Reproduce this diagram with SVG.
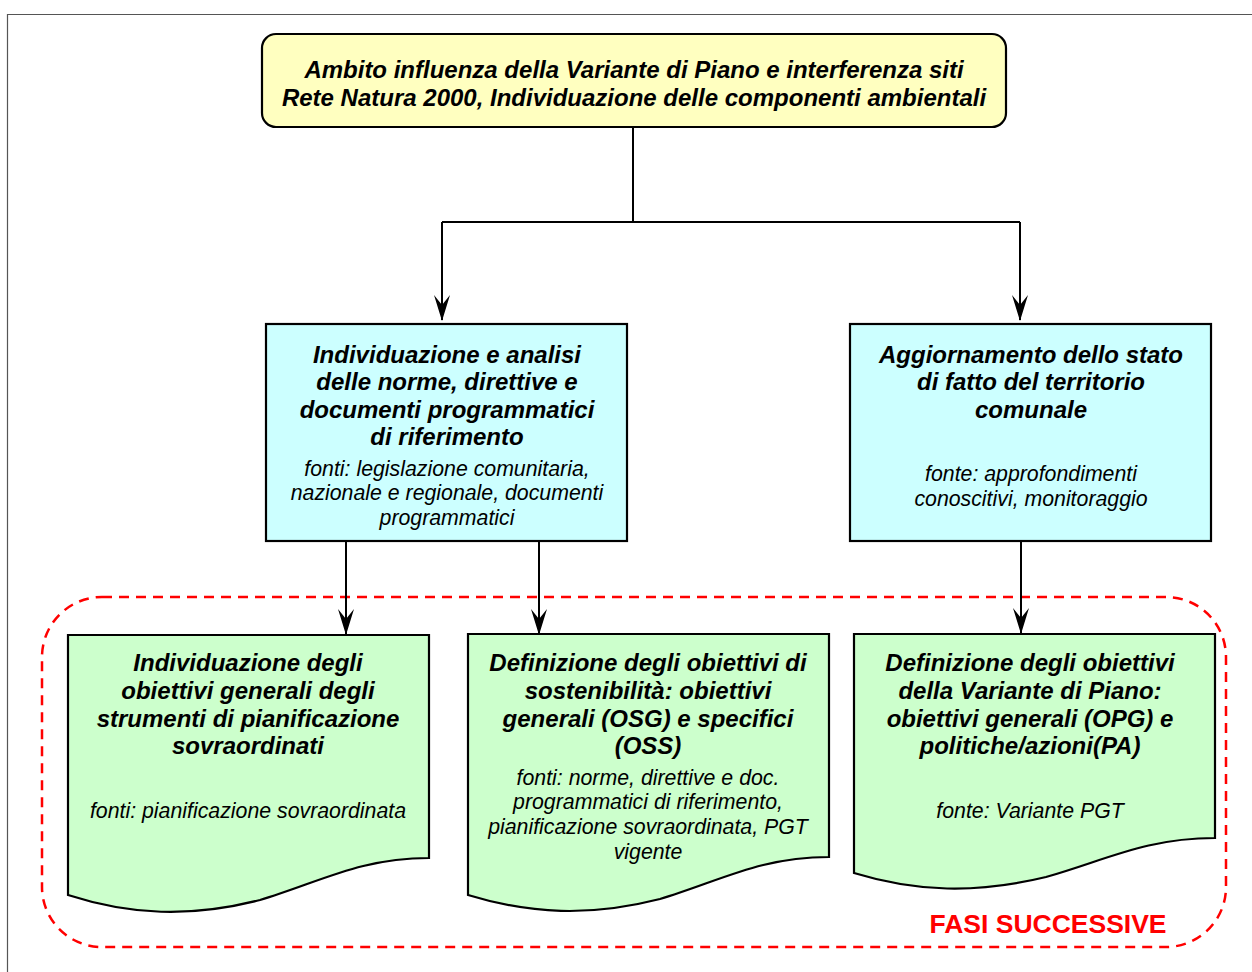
<svg xmlns="http://www.w3.org/2000/svg" width="1252" height="972" viewBox="0 0 1252 972">
<defs>
<style>
.b{font-family:"Liberation Sans",Arial,sans-serif;font-weight:bold;font-style:italic;font-size:24px;text-anchor:middle;fill:#000}
.i{font-family:"Liberation Sans",Arial,sans-serif;font-style:italic;font-size:21.3px;text-anchor:middle;fill:#000}
.box{stroke:#000;stroke-width:2.2}
.conn{fill:none;stroke:#000;stroke-width:2}
</style>
<marker id="arr" markerWidth="26" markerHeight="16" viewBox="0 0 26 16" refX="25" refY="8" orient="auto" markerUnits="userSpaceOnUse">
<path d="M0,0 L26,8 L0,16 L10,8 Z" fill="#000"/>
</marker>
</defs>
<rect width="1252" height="972" fill="#fff"/>
<path d="M7.5,980 V14.5 H1260" fill="none" stroke="#555" stroke-width="1.2"/>

<g id="fasi">
<rect x="42" y="597" width="1184" height="350" rx="60" fill="none" stroke="#f00" stroke-width="2.5" stroke-dasharray="10,7"/>
<text x="1048" y="933" style="font-family:'Liberation Sans',Arial,sans-serif;font-weight:bold;font-size:26.5px;fill:#f00;text-anchor:middle">FASI SUCCESSIVE</text>
</g>

<g id="connectors">
<path class="conn" d="M633,127 V222"/>
<path class="conn" d="M442,222 H1020"/>
<path class="conn" d="M442,222 V320" marker-end="url(#arr)"/>
<path class="conn" d="M1020,222 V320" marker-end="url(#arr)"/>
<path class="conn" d="M346,541 V634" marker-end="url(#arr)"/>
<path class="conn" d="M539,541 V634" marker-end="url(#arr)"/>
<path class="conn" d="M1021,537 V633" marker-end="url(#arr)"/>
</g>

<g id="top">
<rect class="box" x="262" y="34" width="744" height="93" rx="14" fill="#ffffc0"/>
<text class="b" x="634" y="78">Ambito influenza della Variante di Piano e interferenza siti</text>
<text class="b" x="634" y="106">Rete Natura 2000, Individuazione delle componenti ambientali</text>
</g>

<g id="norme">
<rect class="box" x="266" y="324" width="361" height="217" fill="#ccffff"/>
<text class="b" x="447" y="363">Individuazione e analisi</text>
<text class="b" x="447" y="390">delle norme, direttive e</text>
<text class="b" x="447" y="418">documenti programmatici</text>
<text class="b" x="447" y="445">di riferimento</text>
<text class="i" x="447" y="476">fonti: legislazione comunitaria,</text>
<text class="i" x="447" y="500">nazionale e regionale, documenti</text>
<text class="i" x="447" y="525">programmatici</text>
</g>

<g id="stato">
<rect class="box" x="850" y="324" width="361" height="217" fill="#ccffff"/>
<text class="b" x="1031" y="363">Aggiornamento dello stato</text>
<text class="b" x="1031" y="390">di fatto del territorio</text>
<text class="b" x="1031" y="418">comunale</text>
<text class="i" x="1031" y="481">fonte: approfondimenti</text>
<text class="i" x="1031" y="506">conoscitivi, monitoraggio</text>
</g>

<g id="obiettivi-sovraordinati">
<path class="box" fill="#ccffcc" d="M68,635 H429 V858 C360,858 320,882 260,900 C190,918 130,915 68,895 Z"/>
<text class="b" x="248" y="671">Individuazione degli</text>
<text class="b" x="248" y="699">obiettivi generali degli</text>
<text class="b" x="248" y="727">strumenti di pianificazione</text>
<text class="b" x="248" y="754">sovraordinati</text>
<text class="i" x="248" y="818">fonti: pianificazione sovraordinata</text>
</g>

<g id="sostenibilita">
<path class="box" fill="#ccffcc" d="M468,634 H829 V857 C760,857 720,881 660,899 C590,917 530,914 468,895 Z"/>
<text class="b" x="648" y="671">Definizione degli obiettivi di</text>
<text class="b" x="648" y="699">sostenibilità: obiettivi</text>
<text class="b" x="648" y="727">generali (OSG) e specifici</text>
<text class="b" x="648" y="754">(OSS)</text>
<text class="i" x="648" y="785">fonti: norme, direttive e doc.</text>
<text class="i" x="648" y="809">programmatici di riferimento,</text>
<text class="i" x="648" y="834">pianificazione sovraordinata, PGT</text>
<text class="i" x="648" y="859">vigente</text>
</g>

<g id="variante">
<path class="box" fill="#ccffcc" d="M854,634 H1215 V838 C1146,838 1106,860 1046,877 C976,894 916,892 854,873 Z"/>
<text class="b" x="1030" y="671">Definizione degli obiettivi</text>
<text class="b" x="1030" y="699">della Variante di Piano:</text>
<text class="b" x="1030" y="727">obiettivi generali (OPG) e</text>
<text class="b" x="1030" y="754">politiche/azioni(PA)</text>
<text class="i" x="1030" y="818">fonte: Variante PGT</text>
</g>
</svg>
